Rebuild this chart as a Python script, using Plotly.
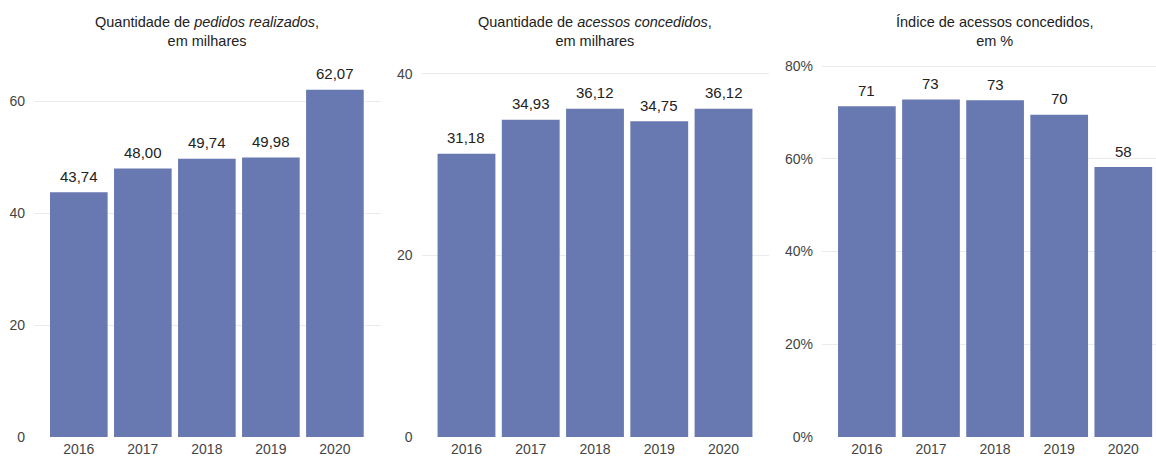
import plotly.graph_objects as go

anos = ["2016", "2017", "2018", "2019", "2020"]
pedidos = [43.74, 48.00, 49.74, 49.98, 62.07]
acessos = [31.18, 34.93, 36.12, 34.75, 36.12]
indice = [71.3, 72.8, 72.6, 69.5, 58.2]
indice_labels = ["71", "73", "73", "70", "58"]

titulos = [
    "Quantidade de <i>pedidos realizados</i>,<br>em milhares",
    "Quantidade de <i>acessos concedidos</i>,<br>em milhares",
    "Índice de acessos concedidos,<br>em %",
]

W, H = 1156, 457
BAR = "#6878b0"
FONT = "Liberation Sans, Arial, sans-serif"

def fmt(v):
    return f"{v:.2f}".replace(".", ",")

fig = go.Figure()
series = [pedidos, acessos, indice]
labels = [[fmt(v) for v in pedidos], [fmt(v) for v in acessos], indice_labels]

doms = [(34 / W, 381 / W), (421.5 / W, 768.5 / W), (822 / W, 1.0)]
xranges = [[-0.7, 4.72], [-0.7, 4.7], [-0.7, 4.51]]
yranges = [[0, 67.4], [0, 41.5], [0, 81.3]]
ytickvals = [[0, 20, 40, 60], [0, 20, 40], [0, 20, 40, 60, 80]]
title_x = [207 / W, 595 / W, 995 / W]

ydom = [(457 - 437) / H, (457 - 60) / H]

for i in range(3):
    xa = "x" if i == 0 else f"x{i+1}"
    ya = "y" if i == 0 else f"y{i+1}"
    fig.add_trace(go.Bar(
        x=anos, y=series[i], marker_color=BAR, marker_line_width=0,
        xaxis=xa, yaxis=ya, showlegend=False, hoverinfo="skip",
    ))
    for j, (v, t) in enumerate(zip(series[i], labels[i])):
        fig.add_annotation(
            x=j, y=v, xref=xa, yref=ya, text=t, showarrow=False,
            yanchor="middle", yshift=16,
            font=dict(family=FONT, size=15, color="#222222"),
        )
    fig.add_annotation(
        x=title_x[i], y=1.0, xref="paper", yref="paper", yanchor="top",
        xanchor="center", yshift=-12, text=titulos[i], showarrow=False,
        align="center",
        font=dict(family=FONT, size=14.5, color="#222222"),
    )
    sfx = "%" if i == 2 else ""
    xkey = "xaxis" if i == 0 else f"xaxis{i+1}"
    ykey = "yaxis" if i == 0 else f"yaxis{i+1}"
    fig.update_layout({
        xkey: dict(
            domain=list(doms[i]), anchor=ya, type="category",
            range=xranges[i], showgrid=False, zeroline=False, automargin=False,
            showline=False, ticks="", tickfont=dict(family=FONT, size=14, color="#444444"),
            ticklabelstandoff=2,
        ),
        ykey: dict(
            domain=ydom, anchor=xa, range=yranges[i], tickvals=ytickvals[i],
            ticktext=[f"{v}{sfx}" for v in ytickvals[i]], automargin=False,
            showgrid=True, gridcolor="#ebebeb", gridwidth=1, zeroline=False,
            showline=False, ticks="", tickfont=dict(family=FONT, size=14, color="#444444"),
            ticklabelstandoff=8,
        ),
    })

fig.update_layout(
    width=W, height=H, margin=dict(l=0, r=0, t=0, b=0),
    paper_bgcolor="white", plot_bgcolor="white", bargap=0.1,
)

fig.write_html("out.html")
